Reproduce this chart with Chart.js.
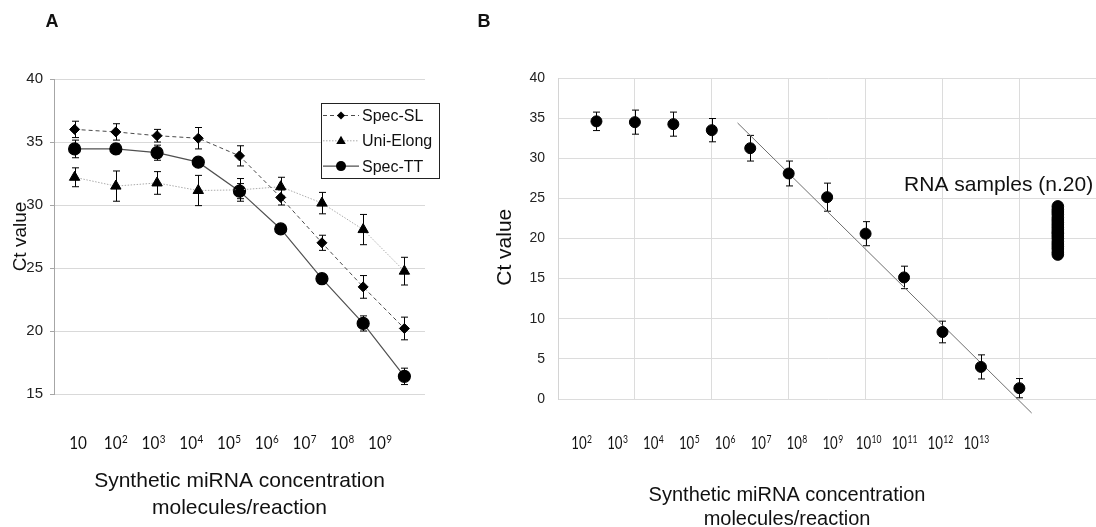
<!DOCTYPE html>
<html lang="en">
<head>
<meta charset="UTF-8">
<title>Ct value vs synthetic miRNA concentration</title>
<script src="https://cdn.jsdelivr.net/npm/chart.js"></script>
<style>
  html, body { margin: 0; padding: 0; background: #fff; overflow: hidden; }
  body { width: 1096px; height: 527px; position: relative; }
  #chartA { position: absolute; left: 0; top: 0; }
  #chartB { position: absolute; left: 470px; top: 0; }
</style>
</head>
<body>
<canvas id="chartA" width="470" height="527"></canvas>
<canvas id="chartB" width="640" height="540"></canvas>
<script>
// ---- panel A data ----
const concA = ['10', '10^2', '10^3', '10^4', '10^5', '10^6', '10^7', '10^8', '10^9'];
const specSL = [36.0, 35.8, 35.5, 35.3, 33.9, 30.6, 27.0, 23.5, 20.2];
const specSLerr = [0.65, 0.65, 0.5, 0.85, 0.8, 0.6, 0.6, 0.9, 0.9];
const uniElong = [32.2, 31.5, 31.75, 31.15, 31.2, 31.45, 30.15, 28.05, 24.75];
const uniElongErr = [0.75, 1.2, 0.9, 1.2, 0.9, 0.75, 0.85, 1.2, 1.1];
const specTT = [34.45, 34.45, 34.15, 33.4, 31.1, 28.1, 24.15, 20.6, 16.4];
const specTTerr = [0.7, 0.4, 0.6, 0.35, 0.6, 0.3, 0.35, 0.6, 0.65];

// ---- panel B data ----
const concB = ['10^2', '10^3', '10^4', '10^5', '10^6', '10^7', '10^8', '10^9', '10^10', '10^11', '10^12', '10^13'];
const ctB = [34.6, 34.5, 34.25, 33.5, 31.25, 28.1, 25.15, 20.6, 15.15, 8.35, 4.0, 1.35];
const ctBerr = [1.15, 1.5, 1.5, 1.45, 1.6, 1.55, 1.75, 1.5, 1.4, 1.35, 1.5, 1.2];
const rnaSamples = [24.0, 23.6, 23.3, 23.0, 22.6, 22.3, 22.0, 21.7, 21.4, 21.1,
                    20.8, 20.6, 20.3, 20.0, 19.6, 19.3, 19.0, 18.7, 18.3, 18.0];
const fitX = [4.67, 12.32];
const fitY = [34.4, -1.75];

Chart.defaults.font.family = "'Liberation Sans', Arial, sans-serif";
Chart.defaults.color = '#111';

const toPoints = (ys, x0) => ys.map((y, i) => ({ x: i + x0, y: y }));

function drawMarker(ctx, style, x, y, r) {
  ctx.beginPath();
  if (style === 'circle') {
    ctx.arc(x, y, r, 0, Math.PI * 2);
  } else if (style === 'triangle') {
    ctx.moveTo(x, y - r);
    ctx.lineTo(x + r * 0.95, y + r * 0.65);
    ctx.lineTo(x - r * 0.95, y + r * 0.65);
  } else {
    ctx.moveTo(x, y - r);
    ctx.lineTo(x + r, y);
    ctx.lineTo(x, y + r);
    ctx.lineTo(x - r, y);
  }
  ctx.closePath();
  ctx.fill();
}

// vertical error bars from each dataset's `errors` array
const errorBars = {
  id: 'errorBars',
  beforeDatasetsDraw(chart) {
    const ctx = chart.ctx, yScale = chart.scales.y;
    chart.data.datasets.forEach((ds, i) => {
      if (!ds.errors) return;
      const meta = chart.getDatasetMeta(i);
      ctx.save();
      ctx.strokeStyle = '#000';
      ctx.lineWidth = 1;
      meta.data.forEach((pt, j) => {
        const e = ds.errors[j];
        const v = ds.data[j].y;
        const top = yScale.getPixelForValue(v + e);
        const bot = yScale.getPixelForValue(v - e);
        const x = Math.round(pt.x) + 0.5;
        ctx.beginPath();
        ctx.moveTo(x, top); ctx.lineTo(x, bot);
        ctx.moveTo(x - 3.5, top); ctx.lineTo(x + 3.5, top);
        ctx.moveTo(x - 3.5, bot); ctx.lineTo(x + 3.5, bot);
        ctx.stroke();
      });
      ctx.restore();
    });
  }
};

// "10^n" tick labels with a raised exponent, placed on the xl scale
function expLabels(labels, opt) {
  const fam = "Lato, 'DejaVu Sans', sans-serif";
  return {
    id: 'expLabels',
    afterDraw(chart) {
      const ctx = chart.ctx, s = chart.scales.xl;
      const y = chart.chartArea.bottom + opt.dy;
      labels.forEach((lab, i) => {
        const parts = lab.split('^');
        ctx.save();
        ctx.fillStyle = '#111';
        ctx.textBaseline = 'alphabetic';
        ctx.textAlign = 'left';
        ctx.font = opt.size + 'px ' + fam;
        const wb = ctx.measureText(parts[0]).width;
        ctx.font = opt.expSize + 'px ' + fam;
        const we = parts[1] ? ctx.measureText(parts[1]).width + 0.5 : 0;
        ctx.translate(s.getPixelForValue(i) - (wb + we) * opt.sx / 2, y);
        ctx.scale(opt.sx, 1);
        ctx.font = opt.size + 'px ' + fam;
        ctx.fillText(parts[0], 0, 0);
        if (parts[1]) {
          ctx.font = opt.expSize + 'px ' + fam;
          ctx.fillText(parts[1], wb + 0.5, -opt.raise);
        }
        ctx.restore();
      });
    }
  };
}

// free text: panel letters, annotations, titles
function texts(items) {
  return {
    id: 'texts',
    afterDraw(chart) {
      const ctx = chart.ctx;
      items.forEach(t => {
        let x = t.x, y = t.y;
        if (t.data) {
          x = chart.scales.x.getPixelForValue(t.x);
          y = chart.scales.y.getPixelForValue(t.y);
        }
        ctx.save();
        ctx.font = t.font;
        ctx.fillStyle = '#111';
        ctx.textAlign = 'center';
        ctx.textBaseline = 'middle';
        ctx.fillText(t.text, x, y);
        ctx.restore();
      });
    }
  };
}

const legendA = {
  id: 'legendA',
  afterDraw(chart) {
    const ctx = chart.ctx;
    const bx = 321, by = 103, bw = 118, bh = 75;
    ctx.save();
    ctx.fillStyle = '#fff';
    ctx.fillRect(bx, by, bw, bh);
    ctx.strokeStyle = '#222';
    ctx.lineWidth = 1;
    ctx.strokeRect(bx + 0.5, by + 0.5, bw, bh);
    chart.data.datasets.forEach((ds, i) => {
      const y = by + 12.5 + i * 25.3;
      ctx.setLineDash(ds.borderDash || []);
      ctx.strokeStyle = ds.borderColor;
      ctx.lineWidth = ds.borderWidth;
      ctx.beginPath();
      ctx.moveTo(bx + 2, y); ctx.lineTo(bx + 38, y);
      ctx.stroke();
      ctx.setLineDash([]);
      ctx.fillStyle = '#000';
      drawMarker(ctx, ds.pointStyle, bx + 20, y, ds.pointRadius - 1);
      ctx.fillStyle = '#111';
      ctx.font = "16px 'Liberation Sans', Arial, sans-serif";
      ctx.textAlign = 'left';
      ctx.textBaseline = 'middle';
      ctx.fillText(ds.label, bx + 41, y + 1);
    });
    ctx.restore();
  }
};

// ---------------- panel A ----------------
new Chart(document.getElementById('chartA'), {
  type: 'scatter',
  data: {
    datasets: [
      { label: 'Spec-SL', data: toPoints(specSL, 1), errors: specSLerr, showLine: true,
        borderColor: '#4a4a4a', borderWidth: 1, borderDash: [4, 3],
        pointStyle: 'rectRot', pointRadius: 5, pointBackgroundColor: '#000', pointBorderColor: '#000' },
      { label: 'Uni-Elong', data: toPoints(uniElong, 1), errors: uniElongErr, showLine: true,
        borderColor: '#ababab', borderWidth: 1, borderDash: [1.5, 1.5],
        pointStyle: 'triangle', pointRadius: 6, pointBackgroundColor: '#000', pointBorderColor: '#000' },
      { label: 'Spec-TT', data: toPoints(specTT, 1), errors: specTTerr, showLine: true,
        borderColor: '#505050', borderWidth: 1.2,
        pointStyle: 'circle', pointRadius: 6, pointBackgroundColor: '#000', pointBorderColor: '#000' }
    ]
  },
  options: {
    responsive: false,
    animation: false,
    layout: { padding: { top: 79, right: 45, left: 0, bottom: 0 } },
    plugins: { legend: { display: false }, tooltip: { enabled: false } },
    scales: {
      x: { type: 'linear', min: 0.5, max: 9.5, display: false },
      xl: {
        type: 'linear', position: 'bottom', min: -0.636, max: 9.19,
        grid: { display: false }, border: { display: false },
        afterFit: s => { s.height = 133; },
        ticks: { display: false },
        title: { display: true, text: ['Synthetic miRNA concentration', 'molecules/reaction'],
                 font: { size: 21, lineHeight: 1.25 }, padding: { top: 0, bottom: 6 }, color: '#111' }
      },
      y: {
        min: 15, max: 40,
        afterFit: s => { s.width = 54; },
        ticks: { stepSize: 5, padding: 7, color: '#222', font: { size: 15 } },
        grid: { color: '#d9d9d9', tickColor: '#a6a6a6', tickLength: 4 },
        border: { color: '#a6a6a6' },
        title: { display: true, text: 'Ct value', font: { size: 19 }, padding: { top: 9, bottom: 0 }, color: '#111' }
      }
    }
  },
  plugins: [errorBars, legendA,
    expLabels(concA, { size: 17, expSize: 11, sx: 0.9, raise: 6, dy: 54.5 }),
    texts([{ text: 'A', x: 52, y: 22, font: "bold 18px 'Liberation Sans', Arial, sans-serif" }])]
});

// ---------------- panel B ----------------
new Chart(document.getElementById('chartB'), {
  type: 'scatter',
  data: {
    datasets: [
      { label: 'Standards', data: toPoints(ctB, 1), errors: ctBerr,
        pointStyle: 'circle', pointRadius: 5.5, pointBackgroundColor: '#000', pointBorderColor: '#000' },
      { label: 'RNA samples', data: rnaSamples.map(y => ({ x: 13, y: y })),
        pointStyle: 'circle', pointRadius: 5.8, pointBackgroundColor: '#000', pointBorderColor: '#000' },
      { label: 'Fit', data: fitX.map((x, i) => ({ x: x, y: fitY[i] })), showLine: true,
        borderColor: '#6e6e6e', borderWidth: 1, pointRadius: 0, clip: false }
    ]
  },
  options: {
    responsive: false,
    animation: false,
    layout: { padding: { top: 78, right: 11.8, left: 0, bottom: 0 } },
    plugins: { legend: { display: false }, tooltip: { enabled: false } },
    scales: {
      x: {
        type: 'linear', min: 0, max: 14.05,
        afterFit: s => { s.height = 0; },
        afterBuildTicks: s => { s.ticks = s.ticks.filter(t => t.value < 14); },
        ticks: { display: false, stepSize: 2 },
        grid: { color: '#dcdcdc', drawTicks: false },
        border: { display: false }
      },
      xl: {
        type: 'linear', position: 'bottom', min: -0.66, max: 14.4,
        grid: { display: false }, border: { display: false },
        afterFit: s => { s.height = 141; },
        ticks: { display: false }
      },
      y: {
        min: 0, max: 40,
        afterFit: s => { s.width = 88; },
        ticks: { stepSize: 5, padding: 13, color: '#222', font: { size: 14 } },
        grid: { color: '#dcdcdc', drawTicks: false },
        border: { color: '#d4d4d4' },
        title: { display: true, text: 'Ct value   ', font: { size: 21 }, padding: { top: 23, bottom: 0 }, color: '#111' }
      }
    }
  },
  plugins: [errorBars,
    expLabels(concB, { size: 17, expSize: 11, sx: 0.78, raise: 6, dy: 50.3 }),
    texts([
      { text: 'B', x: 14, y: 22, font: "bold 18px 'Liberation Sans', Arial, sans-serif" },
      { text: 'RNA samples (n.20)', x: 11.46, y: 26.7, data: true, font: "21px 'Liberation Sans', Arial, sans-serif" },
      { text: 'Synthetic miRNA concentration', x: 317, y: 495, font: "20px 'Liberation Sans', Arial, sans-serif" },
      { text: 'molecules/reaction', x: 317, y: 519, font: "20px 'Liberation Sans', Arial, sans-serif" }
    ])]
});
</script>
</body>
</html>
